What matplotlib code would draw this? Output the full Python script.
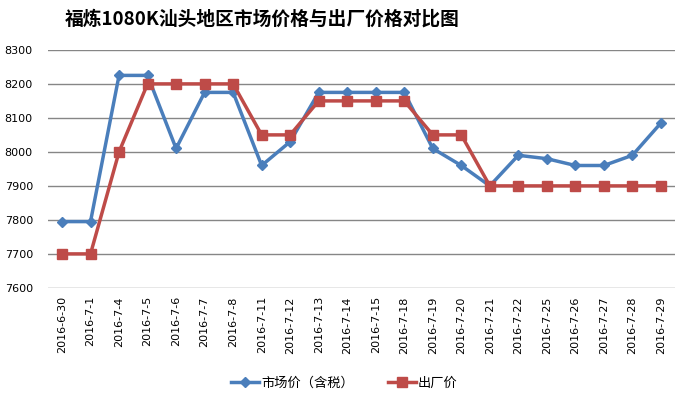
import matplotlib.pyplot as plt

plt.rcParams['font.family'] = ['Noto Sans CJK SC', 'DejaVu Sans']

dates = ['2016-6-30', '2016-7-1', '2016-7-4', '2016-7-5', '2016-7-6', '2016-7-7',
         '2016-7-8', '2016-7-11', '2016-7-12', '2016-7-13', '2016-7-14', '2016-7-15',
         '2016-7-18', '2016-7-19', '2016-7-20', '2016-7-21', '2016-7-22', '2016-7-25',
         '2016-7-26', '2016-7-27', '2016-7-28', '2016-7-29']
market = [7795, 7795, 8225, 8225, 8010, 8175, 8175, 7960, 8030, 8175, 8175, 8175,
          8175, 8010, 7960, 7900, 7990, 7980, 7960, 7960, 7990, 8085]
factory = [7700, 7700, 8000, 8200, 8200, 8200, 8200, 8050, 8050, 8150, 8150, 8150,
           8150, 8050, 8050, 7900, 7900, 7900, 7900, 7900, 7900, 7900]

fig = plt.figure(figsize=(6.82, 3.96), dpi=100)
ax = fig.add_axes([0.070, 0.273, 0.920, 0.601])

x = list(range(len(dates)))
ax.plot(x, market, color='#4A7EBB', linewidth=2.5, marker='D', markersize=5.5,
        label='市场价（含税）', zorder=3)
ax.plot(x, factory, color='#BE4B48', linewidth=2.5, marker='s', markersize=7.5,
        label='出厂价', zorder=4)

ax.set_xlim(-0.5, len(dates) - 0.5)
ax.set_ylim(7600, 8300)
ax.set_yticks(range(7600, 8301, 100))
ax.set_xticks(x)
ax.set_xticklabels(dates, rotation=90, fontsize=8, family='DejaVu Sans')
for lab in ax.get_yticklabels():
    lab.set_fontsize(8)
    lab.set_family('DejaVu Sans')
    lab.set_horizontalalignment('left')
ax.tick_params(axis='y', length=0, pad=31)
ax.tick_params(axis='x', length=0, pad=6)
ax.grid(axis='y', color='#868686', linewidth=1)
ax.set_axisbelow(True)
for s in ax.spines.values():
    s.set_visible(False)

fig.text(0.384, 0.952, '福炼1080K汕头地区市场价格与出厂价格对比图', ha='center', va='center',
         fontsize=13.5, fontweight='bold')

fig.legend(loc='center', bbox_to_anchor=(0.505, 0.033), ncol=2, frameon=False,
           fontsize=9.5, handlelength=2.1, columnspacing=2.6, handletextpad=0.15)

fig.savefig('out.png', dpi=100)
